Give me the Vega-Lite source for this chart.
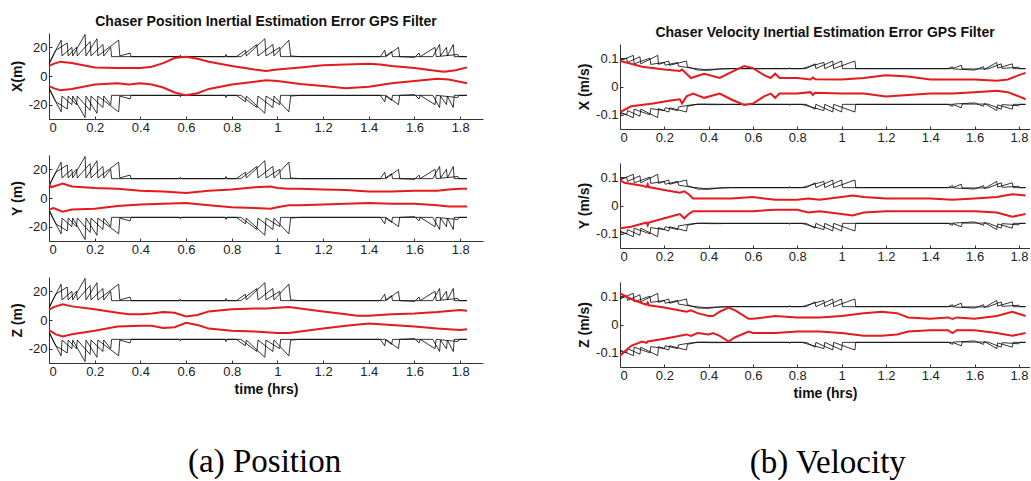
{
"$schema": "https://vega.github.io/schema/vega-lite/v6.json",
"padding": {"left": 10, "top": -4, "right": 0, "bottom": 0},
"background": "white",
"config": {
  "view": {"stroke": null},
  "font": "Liberation Sans",
  "axis": {"domainColor": "#333", "tickColor": "#333", "labelColor": "#222", "labelFont": "Liberation Sans", "labelFontSize": 13, "titleFont": "Liberation Sans", "titleFontSize": 14, "titleFontWeight": "bold", "titleColor": "#111", "grid": false, "tickSize": -3, "labelPadding": 5, "titlePadding": 4},
  "title": {"font": "Liberation Sans", "fontSize": 14, "fontWeight": "bold", "color": "#111", "anchor": "middle"}
},
"datasets": {
"blk": [
{"p":"pos","s":"b1u","t":0,"v":9},{"p":"pos","s":"b1u","t":0.053,"v":25},{"p":"pos","s":"b1u","t":0.057,"v":14},{"p":"pos","s":"b1u","t":0.1,"v":20},{"p":"pos","s":"b1u","t":0.104,"v":14},{"p":"pos","s":"b1u","t":0.158,"v":29},{"p":"pos","s":"b1u","t":0.162,"v":14},{"p":"pos","s":"b1u","t":0.21,"v":26},{"p":"pos","s":"b1u","t":0.214,"v":14},{"p":"pos","s":"b1u","t":0.305,"v":25},{"p":"pos","s":"b1u","t":0.31,"v":14},{"p":"pos","s":"b1u","t":0.355,"v":16},{"p":"pos","s":"b1u","t":0.36,"v":13.5},{"p":"pos","s":"b1u","t":0.77,"v":13.5},{"p":"pos","s":"b1u","t":0.775,"v":15},{"p":"pos","s":"b1u","t":0.78,"v":13.5},{"p":"pos","s":"b1u","t":0.84,"v":13.5},{"p":"pos","s":"b1u","t":0.91,"v":22},{"p":"pos","s":"b1u","t":0.915,"v":14},{"p":"pos","s":"b1u","t":0.98,"v":22},{"p":"pos","s":"b1u","t":0.985,"v":14},{"p":"pos","s":"b1u","t":1.05,"v":25},{"p":"pos","s":"b1u","t":1.058,"v":14},{"p":"pos","s":"b1u","t":1.1,"v":13.5},{"p":"pos","s":"b1u","t":1.45,"v":13.5},{"p":"pos","s":"b1u","t":1.47,"v":18},{"p":"pos","s":"b1u","t":1.475,"v":13.5},{"p":"pos","s":"b1u","t":1.53,"v":20},{"p":"pos","s":"b1u","t":1.535,"v":13.5},{"p":"pos","s":"b1u","t":1.6,"v":13},{"p":"pos","s":"b1u","t":1.62,"v":16},{"p":"pos","s":"b1u","t":1.625,"v":13.5},{"p":"pos","s":"b1u","t":1.69,"v":20},{"p":"pos","s":"b1u","t":1.695,"v":13.5},{"p":"pos","s":"b1u","t":1.79,"v":15},{"p":"pos","s":"b1u","t":1.795,"v":13.5},{"p":"pos","s":"b1u","t":1.83,"v":13.5},
{"p":"pos","s":"b1l","t":0,"v":-9},{"p":"pos","s":"b1l","t":0.053,"v":-25},{"p":"pos","s":"b1l","t":0.057,"v":-14},{"p":"pos","s":"b1l","t":0.1,"v":-20},{"p":"pos","s":"b1l","t":0.104,"v":-14},{"p":"pos","s":"b1l","t":0.158,"v":-29},{"p":"pos","s":"b1l","t":0.162,"v":-14},{"p":"pos","s":"b1l","t":0.21,"v":-26},{"p":"pos","s":"b1l","t":0.214,"v":-14},{"p":"pos","s":"b1l","t":0.305,"v":-25},{"p":"pos","s":"b1l","t":0.31,"v":-14},{"p":"pos","s":"b1l","t":0.355,"v":-16},{"p":"pos","s":"b1l","t":0.36,"v":-13.5},{"p":"pos","s":"b1l","t":0.77,"v":-13.5},{"p":"pos","s":"b1l","t":0.775,"v":-15},{"p":"pos","s":"b1l","t":0.78,"v":-13.5},{"p":"pos","s":"b1l","t":0.84,"v":-13.5},{"p":"pos","s":"b1l","t":0.91,"v":-22},{"p":"pos","s":"b1l","t":0.915,"v":-14},{"p":"pos","s":"b1l","t":0.98,"v":-22},{"p":"pos","s":"b1l","t":0.985,"v":-14},{"p":"pos","s":"b1l","t":1.05,"v":-25},{"p":"pos","s":"b1l","t":1.058,"v":-14},{"p":"pos","s":"b1l","t":1.1,"v":-13.5},{"p":"pos","s":"b1l","t":1.45,"v":-13.5},{"p":"pos","s":"b1l","t":1.47,"v":-18},{"p":"pos","s":"b1l","t":1.475,"v":-13.5},{"p":"pos","s":"b1l","t":1.53,"v":-20},{"p":"pos","s":"b1l","t":1.535,"v":-13.5},{"p":"pos","s":"b1l","t":1.6,"v":-13},{"p":"pos","s":"b1l","t":1.62,"v":-16},{"p":"pos","s":"b1l","t":1.625,"v":-13.5},{"p":"pos","s":"b1l","t":1.69,"v":-20},{"p":"pos","s":"b1l","t":1.695,"v":-13.5},{"p":"pos","s":"b1l","t":1.79,"v":-15},{"p":"pos","s":"b1l","t":1.795,"v":-13.5},{"p":"pos","s":"b1l","t":1.83,"v":-13.5},
{"p":"pos","s":"b2u","t":0,"v":8},{"p":"pos","s":"b2u","t":0.03,"v":18},{"p":"pos","s":"b2u","t":0.08,"v":23},{"p":"pos","s":"b2u","t":0.084,"v":14},{"p":"pos","s":"b2u","t":0.12,"v":20},{"p":"pos","s":"b2u","t":0.124,"v":14},{"p":"pos","s":"b2u","t":0.18,"v":24},{"p":"pos","s":"b2u","t":0.184,"v":14},{"p":"pos","s":"b2u","t":0.236,"v":22},{"p":"pos","s":"b2u","t":0.24,"v":14},{"p":"pos","s":"b2u","t":0.27,"v":20},{"p":"pos","s":"b2u","t":0.274,"v":13.5},{"p":"pos","s":"b2u","t":0.57,"v":13.5},{"p":"pos","s":"b2u","t":0.575,"v":14.5},{"p":"pos","s":"b2u","t":0.58,"v":13.5},{"p":"pos","s":"b2u","t":0.82,"v":13.5},{"p":"pos","s":"b2u","t":0.86,"v":18},{"p":"pos","s":"b2u","t":0.864,"v":14},{"p":"pos","s":"b2u","t":0.945,"v":26},{"p":"pos","s":"b2u","t":0.95,"v":14},{"p":"pos","s":"b2u","t":1.01,"v":20},{"p":"pos","s":"b2u","t":1.014,"v":13.5},{"p":"pos","s":"b2u","t":1.47,"v":13.5},{"p":"pos","s":"b2u","t":1.5,"v":17},{"p":"pos","s":"b2u","t":1.504,"v":13.5},{"p":"pos","s":"b2u","t":1.68,"v":13.5},{"p":"pos","s":"b2u","t":1.71,"v":22},{"p":"pos","s":"b2u","t":1.714,"v":14},{"p":"pos","s":"b2u","t":1.74,"v":20},{"p":"pos","s":"b2u","t":1.744,"v":14},{"p":"pos","s":"b2u","t":1.77,"v":22},{"p":"pos","s":"b2u","t":1.774,"v":13.5},{"p":"pos","s":"b2u","t":1.83,"v":13.5},
{"p":"pos","s":"b2l","t":0,"v":-8},{"p":"pos","s":"b2l","t":0.03,"v":-18},{"p":"pos","s":"b2l","t":0.08,"v":-23},{"p":"pos","s":"b2l","t":0.084,"v":-14},{"p":"pos","s":"b2l","t":0.12,"v":-20},{"p":"pos","s":"b2l","t":0.124,"v":-14},{"p":"pos","s":"b2l","t":0.18,"v":-24},{"p":"pos","s":"b2l","t":0.184,"v":-14},{"p":"pos","s":"b2l","t":0.236,"v":-22},{"p":"pos","s":"b2l","t":0.24,"v":-14},{"p":"pos","s":"b2l","t":0.27,"v":-20},{"p":"pos","s":"b2l","t":0.274,"v":-13.5},{"p":"pos","s":"b2l","t":0.57,"v":-13.5},{"p":"pos","s":"b2l","t":0.575,"v":-14.5},{"p":"pos","s":"b2l","t":0.58,"v":-13.5},{"p":"pos","s":"b2l","t":0.82,"v":-13.5},{"p":"pos","s":"b2l","t":0.86,"v":-18},{"p":"pos","s":"b2l","t":0.864,"v":-14},{"p":"pos","s":"b2l","t":0.945,"v":-26},{"p":"pos","s":"b2l","t":0.95,"v":-14},{"p":"pos","s":"b2l","t":1.01,"v":-20},{"p":"pos","s":"b2l","t":1.014,"v":-13.5},{"p":"pos","s":"b2l","t":1.47,"v":-13.5},{"p":"pos","s":"b2l","t":1.5,"v":-17},{"p":"pos","s":"b2l","t":1.504,"v":-13.5},{"p":"pos","s":"b2l","t":1.68,"v":-13.5},{"p":"pos","s":"b2l","t":1.71,"v":-22},{"p":"pos","s":"b2l","t":1.714,"v":-14},{"p":"pos","s":"b2l","t":1.74,"v":-20},{"p":"pos","s":"b2l","t":1.744,"v":-14},{"p":"pos","s":"b2l","t":1.77,"v":-22},{"p":"pos","s":"b2l","t":1.774,"v":-13.5},{"p":"pos","s":"b2l","t":1.83,"v":-13.5},
{"p":"vel","s":"v1u","t":0,"v":0.095},{"p":"vel","s":"v1u","t":0.03,"v":0.1},{"p":"vel","s":"v1u","t":0.034,"v":0.085},{"p":"vel","s":"v1u","t":0.09,"v":0.105},{"p":"vel","s":"v1u","t":0.094,"v":0.08},{"p":"vel","s":"v1u","t":0.17,"v":0.11},{"p":"vel","s":"v1u","t":0.174,"v":0.078},{"p":"vel","s":"v1u","t":0.22,"v":0.09},{"p":"vel","s":"v1u","t":0.224,"v":0.075},{"p":"vel","s":"v1u","t":0.3,"v":0.09},{"p":"vel","s":"v1u","t":0.304,"v":0.07},{"p":"vel","s":"v1u","t":0.35,"v":0.058},{"p":"vel","s":"v1u","t":0.4,"v":0.057},{"p":"vel","s":"v1u","t":0.45,"v":0.062},{"p":"vel","s":"v1u","t":0.5,"v":0.063},{"p":"vel","s":"v1u","t":0.84,"v":0.063},{"p":"vel","s":"v1u","t":0.88,"v":0.08},{"p":"vel","s":"v1u","t":0.884,"v":0.063},{"p":"vel","s":"v1u","t":0.96,"v":0.09},{"p":"vel","s":"v1u","t":0.964,"v":0.063},{"p":"vel","s":"v1u","t":1.06,"v":0.09},{"p":"vel","s":"v1u","t":1.064,"v":0.063},{"p":"vel","s":"v1u","t":1.48,"v":0.063},{"p":"vel","s":"v1u","t":1.5,"v":0.07},{"p":"vel","s":"v1u","t":1.504,"v":0.062},{"p":"vel","s":"v1u","t":1.6,"v":0.058},{"p":"vel","s":"v1u","t":1.64,"v":0.07},{"p":"vel","s":"v1u","t":1.644,"v":0.06},{"p":"vel","s":"v1u","t":1.7,"v":0.085},{"p":"vel","s":"v1u","t":1.704,"v":0.065},{"p":"vel","s":"v1u","t":1.77,"v":0.08},{"p":"vel","s":"v1u","t":1.774,"v":0.063},{"p":"vel","s":"v1u","t":1.83,"v":0.063},
{"p":"vel","s":"v1l","t":0,"v":-0.095},{"p":"vel","s":"v1l","t":0.03,"v":-0.1},{"p":"vel","s":"v1l","t":0.034,"v":-0.085},{"p":"vel","s":"v1l","t":0.09,"v":-0.105},{"p":"vel","s":"v1l","t":0.094,"v":-0.08},{"p":"vel","s":"v1l","t":0.17,"v":-0.11},{"p":"vel","s":"v1l","t":0.174,"v":-0.078},{"p":"vel","s":"v1l","t":0.22,"v":-0.09},{"p":"vel","s":"v1l","t":0.224,"v":-0.075},{"p":"vel","s":"v1l","t":0.3,"v":-0.09},{"p":"vel","s":"v1l","t":0.304,"v":-0.07},{"p":"vel","s":"v1l","t":0.35,"v":-0.062},{"p":"vel","s":"v1l","t":0.4,"v":-0.064},{"p":"vel","s":"v1l","t":0.45,"v":-0.064},{"p":"vel","s":"v1l","t":0.5,"v":-0.063},{"p":"vel","s":"v1l","t":0.84,"v":-0.063},{"p":"vel","s":"v1l","t":0.88,"v":-0.08},{"p":"vel","s":"v1l","t":0.884,"v":-0.063},{"p":"vel","s":"v1l","t":0.96,"v":-0.09},{"p":"vel","s":"v1l","t":0.964,"v":-0.063},{"p":"vel","s":"v1l","t":1.06,"v":-0.09},{"p":"vel","s":"v1l","t":1.064,"v":-0.063},{"p":"vel","s":"v1l","t":1.48,"v":-0.063},{"p":"vel","s":"v1l","t":1.5,"v":-0.07},{"p":"vel","s":"v1l","t":1.504,"v":-0.062},{"p":"vel","s":"v1l","t":1.6,"v":-0.058},{"p":"vel","s":"v1l","t":1.64,"v":-0.07},{"p":"vel","s":"v1l","t":1.644,"v":-0.06},{"p":"vel","s":"v1l","t":1.7,"v":-0.085},{"p":"vel","s":"v1l","t":1.704,"v":-0.065},{"p":"vel","s":"v1l","t":1.77,"v":-0.08},{"p":"vel","s":"v1l","t":1.774,"v":-0.063},{"p":"vel","s":"v1l","t":1.83,"v":-0.063},
{"p":"vel","s":"v2u","t":0,"v":0.09},{"p":"vel","s":"v2u","t":0.06,"v":0.11},{"p":"vel","s":"v2u","t":0.064,"v":0.08},{"p":"vel","s":"v2u","t":0.135,"v":0.1},{"p":"vel","s":"v2u","t":0.139,"v":0.078},{"p":"vel","s":"v2u","t":0.2,"v":0.085},{"p":"vel","s":"v2u","t":0.204,"v":0.075},{"p":"vel","s":"v2u","t":0.26,"v":0.085},{"p":"vel","s":"v2u","t":0.264,"v":0.072},{"p":"vel","s":"v2u","t":0.32,"v":0.065},{"p":"vel","s":"v2u","t":0.38,"v":0.06},{"p":"vel","s":"v2u","t":0.5,"v":0.063},{"p":"vel","s":"v2u","t":0.76,"v":0.063},{"p":"vel","s":"v2u","t":0.765,"v":0.066},{"p":"vel","s":"v2u","t":0.77,"v":0.063},{"p":"vel","s":"v2u","t":0.82,"v":0.063},{"p":"vel","s":"v2u","t":0.92,"v":0.085},{"p":"vel","s":"v2u","t":0.924,"v":0.063},{"p":"vel","s":"v2u","t":1.0,"v":0.09},{"p":"vel","s":"v2u","t":1.004,"v":0.063},{"p":"vel","s":"v2u","t":1.5,"v":0.063},{"p":"vel","s":"v2u","t":1.54,"v":0.075},{"p":"vel","s":"v2u","t":1.544,"v":0.062},{"p":"vel","s":"v2u","t":1.66,"v":0.062},{"p":"vel","s":"v2u","t":1.72,"v":0.08},{"p":"vel","s":"v2u","t":1.724,"v":0.064},{"p":"vel","s":"v2u","t":1.8,"v":0.068},{"p":"vel","s":"v2u","t":1.804,"v":0.063},{"p":"vel","s":"v2u","t":1.83,"v":0.063},
{"p":"vel","s":"v2l","t":0,"v":-0.09},{"p":"vel","s":"v2l","t":0.06,"v":-0.11},{"p":"vel","s":"v2l","t":0.064,"v":-0.08},{"p":"vel","s":"v2l","t":0.135,"v":-0.1},{"p":"vel","s":"v2l","t":0.139,"v":-0.078},{"p":"vel","s":"v2l","t":0.2,"v":-0.085},{"p":"vel","s":"v2l","t":0.204,"v":-0.075},{"p":"vel","s":"v2l","t":0.26,"v":-0.085},{"p":"vel","s":"v2l","t":0.264,"v":-0.072},{"p":"vel","s":"v2l","t":0.32,"v":-0.065},{"p":"vel","s":"v2l","t":0.38,"v":-0.062},{"p":"vel","s":"v2l","t":0.5,"v":-0.063},{"p":"vel","s":"v2l","t":0.76,"v":-0.063},{"p":"vel","s":"v2l","t":0.765,"v":-0.066},{"p":"vel","s":"v2l","t":0.77,"v":-0.063},{"p":"vel","s":"v2l","t":0.82,"v":-0.063},{"p":"vel","s":"v2l","t":0.92,"v":-0.085},{"p":"vel","s":"v2l","t":0.924,"v":-0.063},{"p":"vel","s":"v2l","t":1.0,"v":-0.09},{"p":"vel","s":"v2l","t":1.004,"v":-0.063},{"p":"vel","s":"v2l","t":1.5,"v":-0.063},{"p":"vel","s":"v2l","t":1.54,"v":-0.075},{"p":"vel","s":"v2l","t":1.544,"v":-0.062},{"p":"vel","s":"v2l","t":1.66,"v":-0.062},{"p":"vel","s":"v2l","t":1.72,"v":-0.08},{"p":"vel","s":"v2l","t":1.724,"v":-0.064},{"p":"vel","s":"v2l","t":1.8,"v":-0.068},{"p":"vel","s":"v2l","t":1.804,"v":-0.063},{"p":"vel","s":"v2l","t":1.83,"v":-0.063}
],
"red": [
{"p":"PX","s":"u","t":0,"v":7},{"p":"PX","s":"u","t":0.02,"v":8.5},{"p":"PX","s":"u","t":0.05,"v":10},{"p":"PX","s":"u","t":0.1,"v":9},{"p":"PX","s":"u","t":0.15,"v":7.5},{"p":"PX","s":"u","t":0.2,"v":6},{"p":"PX","s":"u","t":0.3,"v":5.5},{"p":"PX","s":"u","t":0.4,"v":5.5},{"p":"PX","s":"u","t":0.45,"v":6.5},{"p":"PX","s":"u","t":0.5,"v":9},{"p":"PX","s":"u","t":0.55,"v":12.5},{"p":"PX","s":"u","t":0.6,"v":13.5},{"p":"PX","s":"u","t":0.65,"v":12},{"p":"PX","s":"u","t":0.7,"v":10},{"p":"PX","s":"u","t":0.8,"v":7},{"p":"PX","s":"u","t":0.9,"v":4.5},{"p":"PX","s":"u","t":0.95,"v":3.5},{"p":"PX","s":"u","t":1.0,"v":4.5},{"p":"PX","s":"u","t":1.1,"v":6},{"p":"PX","s":"u","t":1.2,"v":7.5},{"p":"PX","s":"u","t":1.3,"v":8},{"p":"PX","s":"u","t":1.4,"v":8.5},{"p":"PX","s":"u","t":1.45,"v":8},{"p":"PX","s":"u","t":1.5,"v":7},{"p":"PX","s":"u","t":1.6,"v":5.5},{"p":"PX","s":"u","t":1.7,"v":3.5},{"p":"PX","s":"u","t":1.73,"v":3},{"p":"PX","s":"u","t":1.78,"v":4},{"p":"PX","s":"u","t":1.83,"v":6},
{"p":"PX","s":"l","t":0,"v":-7},{"p":"PX","s":"l","t":0.02,"v":-8.5},{"p":"PX","s":"l","t":0.05,"v":-10},{"p":"PX","s":"l","t":0.1,"v":-9},{"p":"PX","s":"l","t":0.2,"v":-6},{"p":"PX","s":"l","t":0.3,"v":-5},{"p":"PX","s":"l","t":0.35,"v":-6},{"p":"PX","s":"l","t":0.4,"v":-5},{"p":"PX","s":"l","t":0.45,"v":-6},{"p":"PX","s":"l","t":0.5,"v":-8},{"p":"PX","s":"l","t":0.55,"v":-11.5},{"p":"PX","s":"l","t":0.6,"v":-13.5},{"p":"PX","s":"l","t":0.65,"v":-12},{"p":"PX","s":"l","t":0.7,"v":-9},{"p":"PX","s":"l","t":0.8,"v":-6},{"p":"PX","s":"l","t":0.9,"v":-4},{"p":"PX","s":"l","t":0.95,"v":-3},{"p":"PX","s":"l","t":1.0,"v":-3.5},{"p":"PX","s":"l","t":1.1,"v":-5.5},{"p":"PX","s":"l","t":1.2,"v":-7},{"p":"PX","s":"l","t":1.3,"v":-8.5},{"p":"PX","s":"l","t":1.4,"v":-7.5},{"p":"PX","s":"l","t":1.5,"v":-5},{"p":"PX","s":"l","t":1.6,"v":-3.5},{"p":"PX","s":"l","t":1.7,"v":-2},{"p":"PX","s":"l","t":1.75,"v":-2.5},{"p":"PX","s":"l","t":1.83,"v":-5},
{"p":"PY","s":"u","t":0,"v":10},{"p":"PY","s":"u","t":0.01,"v":7.5},{"p":"PY","s":"u","t":0.06,"v":10},{"p":"PY","s":"u","t":0.1,"v":8},{"p":"PY","s":"u","t":0.2,"v":7},{"p":"PY","s":"u","t":0.3,"v":6.5},{"p":"PY","s":"u","t":0.4,"v":5},{"p":"PY","s":"u","t":0.5,"v":4.5},{"p":"PY","s":"u","t":0.6,"v":3.5},{"p":"PY","s":"u","t":0.7,"v":5},{"p":"PY","s":"u","t":0.8,"v":6},{"p":"PY","s":"u","t":0.9,"v":7.5},{"p":"PY","s":"u","t":0.97,"v":8},{"p":"PY","s":"u","t":1.0,"v":7},{"p":"PY","s":"u","t":1.05,"v":6.5},{"p":"PY","s":"u","t":1.1,"v":6.5},{"p":"PY","s":"u","t":1.2,"v":6},{"p":"PY","s":"u","t":1.3,"v":5.5},{"p":"PY","s":"u","t":1.4,"v":4.5},{"p":"PY","s":"u","t":1.5,"v":4.5},{"p":"PY","s":"u","t":1.6,"v":5},{"p":"PY","s":"u","t":1.7,"v":5},{"p":"PY","s":"u","t":1.75,"v":6},{"p":"PY","s":"u","t":1.8,"v":6.5},{"p":"PY","s":"u","t":1.83,"v":6.5},
{"p":"PY","s":"l","t":0,"v":-8},{"p":"PY","s":"l","t":0.02,"v":-7},{"p":"PY","s":"l","t":0.06,"v":-9.5},{"p":"PY","s":"l","t":0.1,"v":-8},{"p":"PY","s":"l","t":0.2,"v":-7.5},{"p":"PY","s":"l","t":0.3,"v":-5.5},{"p":"PY","s":"l","t":0.4,"v":-4.5},{"p":"PY","s":"l","t":0.5,"v":-4},{"p":"PY","s":"l","t":0.6,"v":-3.5},{"p":"PY","s":"l","t":0.7,"v":-5},{"p":"PY","s":"l","t":0.8,"v":-6.5},{"p":"PY","s":"l","t":0.9,"v":-7},{"p":"PY","s":"l","t":0.97,"v":-7.5},{"p":"PY","s":"l","t":1.0,"v":-6.5},{"p":"PY","s":"l","t":1.05,"v":-5},{"p":"PY","s":"l","t":1.1,"v":-5},{"p":"PY","s":"l","t":1.2,"v":-4.5},{"p":"PY","s":"l","t":1.3,"v":-4},{"p":"PY","s":"l","t":1.4,"v":-3.5},{"p":"PY","s":"l","t":1.5,"v":-4},{"p":"PY","s":"l","t":1.6,"v":-4},{"p":"PY","s":"l","t":1.7,"v":-5},{"p":"PY","s":"l","t":1.75,"v":-6},{"p":"PY","s":"l","t":1.83,"v":-6},
{"p":"PZ","s":"u","t":0,"v":7},{"p":"PZ","s":"u","t":0.02,"v":9},{"p":"PZ","s":"u","t":0.06,"v":11},{"p":"PZ","s":"u","t":0.1,"v":9.5},{"p":"PZ","s":"u","t":0.2,"v":7.5},{"p":"PZ","s":"u","t":0.3,"v":5},{"p":"PZ","s":"u","t":0.35,"v":4},{"p":"PZ","s":"u","t":0.4,"v":4},{"p":"PZ","s":"u","t":0.45,"v":4.5},{"p":"PZ","s":"u","t":0.5,"v":5.5},{"p":"PZ","s":"u","t":0.55,"v":5},{"p":"PZ","s":"u","t":0.6,"v":2.5},{"p":"PZ","s":"u","t":0.65,"v":3.5},{"p":"PZ","s":"u","t":0.7,"v":6},{"p":"PZ","s":"u","t":0.8,"v":7.5},{"p":"PZ","s":"u","t":0.9,"v":8},{"p":"PZ","s":"u","t":0.95,"v":8},{"p":"PZ","s":"u","t":1.0,"v":8.5},{"p":"PZ","s":"u","t":1.05,"v":9},{"p":"PZ","s":"u","t":1.1,"v":8},{"p":"PZ","s":"u","t":1.2,"v":6},{"p":"PZ","s":"u","t":1.3,"v":4},{"p":"PZ","s":"u","t":1.35,"v":3},{"p":"PZ","s":"u","t":1.4,"v":3},{"p":"PZ","s":"u","t":1.5,"v":4},{"p":"PZ","s":"u","t":1.6,"v":4.5},{"p":"PZ","s":"u","t":1.7,"v":5.5},{"p":"PZ","s":"u","t":1.8,"v":7},{"p":"PZ","s":"u","t":1.83,"v":6.5},
{"p":"PZ","s":"l","t":0,"v":-7},{"p":"PZ","s":"l","t":0.03,"v":-10},{"p":"PZ","s":"l","t":0.06,"v":-11.5},{"p":"PZ","s":"l","t":0.1,"v":-10},{"p":"PZ","s":"l","t":0.2,"v":-7.5},{"p":"PZ","s":"l","t":0.3,"v":-4.5},{"p":"PZ","s":"l","t":0.4,"v":-4},{"p":"PZ","s":"l","t":0.45,"v":-4},{"p":"PZ","s":"l","t":0.5,"v":-5.5},{"p":"PZ","s":"l","t":0.55,"v":-5},{"p":"PZ","s":"l","t":0.6,"v":-2},{"p":"PZ","s":"l","t":0.65,"v":-3.5},{"p":"PZ","s":"l","t":0.7,"v":-6},{"p":"PZ","s":"l","t":0.8,"v":-7.5},{"p":"PZ","s":"l","t":0.9,"v":-8},{"p":"PZ","s":"l","t":1.0,"v":-9},{"p":"PZ","s":"l","t":1.05,"v":-9},{"p":"PZ","s":"l","t":1.1,"v":-8},{"p":"PZ","s":"l","t":1.2,"v":-6},{"p":"PZ","s":"l","t":1.3,"v":-4},{"p":"PZ","s":"l","t":1.4,"v":-2.5},{"p":"PZ","s":"l","t":1.5,"v":-3.5},{"p":"PZ","s":"l","t":1.6,"v":-4.5},{"p":"PZ","s":"l","t":1.7,"v":-6},{"p":"PZ","s":"l","t":1.8,"v":-7},{"p":"PZ","s":"l","t":1.83,"v":-6.5},
{"p":"VX","s":"u","t":0,"v":0.09},{"p":"VX","s":"u","t":0.05,"v":0.08},{"p":"VX","s":"u","t":0.1,"v":0.07},{"p":"VX","s":"u","t":0.2,"v":0.06},{"p":"VX","s":"u","t":0.27,"v":0.055},{"p":"VX","s":"u","t":0.28,"v":0.06},{"p":"VX","s":"u","t":0.32,"v":0.03},{"p":"VX","s":"u","t":0.38,"v":0.045},{"p":"VX","s":"u","t":0.45,"v":0.03},{"p":"VX","s":"u","t":0.5,"v":0.05},{"p":"VX","s":"u","t":0.56,"v":0.072},{"p":"VX","s":"u","t":0.6,"v":0.065},{"p":"VX","s":"u","t":0.65,"v":0.04},{"p":"VX","s":"u","t":0.68,"v":0.03},{"p":"VX","s":"u","t":0.7,"v":0.045},{"p":"VX","s":"u","t":0.72,"v":0.03},{"p":"VX","s":"u","t":0.8,"v":0.03},{"p":"VX","s":"u","t":0.86,"v":0.025},{"p":"VX","s":"u","t":0.87,"v":0.032},{"p":"VX","s":"u","t":0.88,"v":0.026},{"p":"VX","s":"u","t":1.0,"v":0.025},{"p":"VX","s":"u","t":1.1,"v":0.03},{"p":"VX","s":"u","t":1.2,"v":0.04},{"p":"VX","s":"u","t":1.3,"v":0.035},{"p":"VX","s":"u","t":1.4,"v":0.025},{"p":"VX","s":"u","t":1.5,"v":0.025},{"p":"VX","s":"u","t":1.6,"v":0.025},{"p":"VX","s":"u","t":1.7,"v":0.02},{"p":"VX","s":"u","t":1.75,"v":0.025},{"p":"VX","s":"u","t":1.8,"v":0.04},{"p":"VX","s":"u","t":1.83,"v":0.048},
{"p":"VX","s":"l","t":0,"v":-0.09},{"p":"VX","s":"l","t":0.05,"v":-0.07},{"p":"VX","s":"l","t":0.15,"v":-0.06},{"p":"VX","s":"l","t":0.22,"v":-0.05},{"p":"VX","s":"l","t":0.27,"v":-0.045},{"p":"VX","s":"l","t":0.28,"v":-0.06},{"p":"VX","s":"l","t":0.3,"v":-0.035},{"p":"VX","s":"l","t":0.33,"v":-0.025},{"p":"VX","s":"l","t":0.38,"v":-0.04},{"p":"VX","s":"l","t":0.45,"v":-0.025},{"p":"VX","s":"l","t":0.5,"v":-0.045},{"p":"VX","s":"l","t":0.56,"v":-0.065},{"p":"VX","s":"l","t":0.6,"v":-0.06},{"p":"VX","s":"l","t":0.65,"v":-0.035},{"p":"VX","s":"l","t":0.68,"v":-0.025},{"p":"VX","s":"l","t":0.7,"v":-0.04},{"p":"VX","s":"l","t":0.72,"v":-0.025},{"p":"VX","s":"l","t":0.8,"v":-0.025},{"p":"VX","s":"l","t":0.86,"v":-0.02},{"p":"VX","s":"l","t":0.87,"v":-0.03},{"p":"VX","s":"l","t":0.88,"v":-0.022},{"p":"VX","s":"l","t":1.0,"v":-0.025},{"p":"VX","s":"l","t":1.1,"v":-0.025},{"p":"VX","s":"l","t":1.2,"v":-0.035},{"p":"VX","s":"l","t":1.3,"v":-0.03},{"p":"VX","s":"l","t":1.4,"v":-0.025},{"p":"VX","s":"l","t":1.5,"v":-0.025},{"p":"VX","s":"l","t":1.6,"v":-0.02},{"p":"VX","s":"l","t":1.7,"v":-0.015},{"p":"VX","s":"l","t":1.75,"v":-0.02},{"p":"VX","s":"l","t":1.8,"v":-0.035},{"p":"VX","s":"l","t":1.83,"v":-0.045},
{"p":"VY","s":"u","t":0,"v":0.09},{"p":"VY","s":"u","t":0.02,"v":0.08},{"p":"VY","s":"u","t":0.1,"v":0.07},{"p":"VY","s":"u","t":0.12,"v":0.065},{"p":"VY","s":"u","t":0.125,"v":0.075},{"p":"VY","s":"u","t":0.13,"v":0.065},{"p":"VY","s":"u","t":0.2,"v":0.055},{"p":"VY","s":"u","t":0.27,"v":0.045},{"p":"VY","s":"u","t":0.29,"v":0.05},{"p":"VY","s":"u","t":0.31,"v":0.04},{"p":"VY","s":"u","t":0.33,"v":0.025},{"p":"VY","s":"u","t":0.4,"v":0.025},{"p":"VY","s":"u","t":0.5,"v":0.025},{"p":"VY","s":"u","t":0.6,"v":0.03},{"p":"VY","s":"u","t":0.65,"v":0.025},{"p":"VY","s":"u","t":0.7,"v":0.02},{"p":"VY","s":"u","t":0.8,"v":0.02},{"p":"VY","s":"u","t":0.85,"v":0.025},{"p":"VY","s":"u","t":0.9,"v":0.02},{"p":"VY","s":"u","t":1.0,"v":0.03},{"p":"VY","s":"u","t":1.05,"v":0.035},{"p":"VY","s":"u","t":1.1,"v":0.03},{"p":"VY","s":"u","t":1.2,"v":0.025},{"p":"VY","s":"u","t":1.3,"v":0.025},{"p":"VY","s":"u","t":1.4,"v":0.025},{"p":"VY","s":"u","t":1.5,"v":0.02},{"p":"VY","s":"u","t":1.6,"v":0.025},{"p":"VY","s":"u","t":1.7,"v":0.03},{"p":"VY","s":"u","t":1.77,"v":0.04},{"p":"VY","s":"u","t":1.83,"v":0.035},
{"p":"VY","s":"l","t":0,"v":-0.08},{"p":"VY","s":"l","t":0.05,"v":-0.075},{"p":"VY","s":"l","t":0.12,"v":-0.06},{"p":"VY","s":"l","t":0.125,"v":-0.07},{"p":"VY","s":"l","t":0.13,"v":-0.06},{"p":"VY","s":"l","t":0.2,"v":-0.045},{"p":"VY","s":"l","t":0.27,"v":-0.03},{"p":"VY","s":"l","t":0.29,"v":-0.045},{"p":"VY","s":"l","t":0.31,"v":-0.03},{"p":"VY","s":"l","t":0.33,"v":-0.02},{"p":"VY","s":"l","t":0.4,"v":-0.02},{"p":"VY","s":"l","t":0.5,"v":-0.02},{"p":"VY","s":"l","t":0.6,"v":-0.02},{"p":"VY","s":"l","t":0.7,"v":-0.015},{"p":"VY","s":"l","t":0.8,"v":-0.015},{"p":"VY","s":"l","t":0.85,"v":-0.025},{"p":"VY","s":"l","t":0.9,"v":-0.02},{"p":"VY","s":"l","t":1.0,"v":-0.03},{"p":"VY","s":"l","t":1.05,"v":-0.035},{"p":"VY","s":"l","t":1.1,"v":-0.025},{"p":"VY","s":"l","t":1.2,"v":-0.02},{"p":"VY","s":"l","t":1.3,"v":-0.02},{"p":"VY","s":"l","t":1.4,"v":-0.02},{"p":"VY","s":"l","t":1.5,"v":-0.02},{"p":"VY","s":"l","t":1.6,"v":-0.02},{"p":"VY","s":"l","t":1.7,"v":-0.025},{"p":"VY","s":"l","t":1.77,"v":-0.04},{"p":"VY","s":"l","t":1.83,"v":-0.03},
{"p":"VZ","s":"u","t":0,"v":0.11},{"p":"VZ","s":"u","t":0.05,"v":0.09},{"p":"VZ","s":"u","t":0.1,"v":0.075},{"p":"VZ","s":"u","t":0.12,"v":0.07},{"p":"VZ","s":"u","t":0.125,"v":0.078},{"p":"VZ","s":"u","t":0.13,"v":0.068},{"p":"VZ","s":"u","t":0.2,"v":0.06},{"p":"VZ","s":"u","t":0.3,"v":0.045},{"p":"VZ","s":"u","t":0.32,"v":0.05},{"p":"VZ","s":"u","t":0.35,"v":0.04},{"p":"VZ","s":"u","t":0.4,"v":0.03},{"p":"VZ","s":"u","t":0.42,"v":0.03},{"p":"VZ","s":"u","t":0.45,"v":0.045},{"p":"VZ","s":"u","t":0.49,"v":0.06},{"p":"VZ","s":"u","t":0.52,"v":0.05},{"p":"VZ","s":"u","t":0.58,"v":0.02},{"p":"VZ","s":"u","t":0.6,"v":0.02},{"p":"VZ","s":"u","t":0.7,"v":0.03},{"p":"VZ","s":"u","t":0.8,"v":0.025},{"p":"VZ","s":"u","t":0.9,"v":0.025},{"p":"VZ","s":"u","t":1.0,"v":0.03},{"p":"VZ","s":"u","t":1.1,"v":0.04},{"p":"VZ","s":"u","t":1.18,"v":0.045},{"p":"VZ","s":"u","t":1.25,"v":0.04},{"p":"VZ","s":"u","t":1.3,"v":0.025},{"p":"VZ","s":"u","t":1.4,"v":0.02},{"p":"VZ","s":"u","t":1.48,"v":0.025},{"p":"VZ","s":"u","t":1.5,"v":0.02},{"p":"VZ","s":"u","t":1.52,"v":0.025},{"p":"VZ","s":"u","t":1.6,"v":0.02},{"p":"VZ","s":"u","t":1.7,"v":0.03},{"p":"VZ","s":"u","t":1.77,"v":0.045},{"p":"VZ","s":"u","t":1.83,"v":0.03},
{"p":"VZ","s":"l","t":0,"v":-0.11},{"p":"VZ","s":"l","t":0.05,"v":-0.075},{"p":"VZ","s":"l","t":0.1,"v":-0.06},{"p":"VZ","s":"l","t":0.12,"v":-0.065},{"p":"VZ","s":"l","t":0.125,"v":-0.06},{"p":"VZ","s":"l","t":0.2,"v":-0.05},{"p":"VZ","s":"l","t":0.3,"v":-0.035},{"p":"VZ","s":"l","t":0.32,"v":-0.04},{"p":"VZ","s":"l","t":0.35,"v":-0.03},{"p":"VZ","s":"l","t":0.4,"v":-0.035},{"p":"VZ","s":"l","t":0.42,"v":-0.03},{"p":"VZ","s":"l","t":0.45,"v":-0.04},{"p":"VZ","s":"l","t":0.49,"v":-0.06},{"p":"VZ","s":"l","t":0.52,"v":-0.045},{"p":"VZ","s":"l","t":0.58,"v":-0.025},{"p":"VZ","s":"l","t":0.6,"v":-0.03},{"p":"VZ","s":"l","t":0.7,"v":-0.03},{"p":"VZ","s":"l","t":0.8,"v":-0.025},{"p":"VZ","s":"l","t":0.9,"v":-0.025},{"p":"VZ","s":"l","t":1.0,"v":-0.03},{"p":"VZ","s":"l","t":1.1,"v":-0.04},{"p":"VZ","s":"l","t":1.18,"v":-0.04},{"p":"VZ","s":"l","t":1.25,"v":-0.035},{"p":"VZ","s":"l","t":1.3,"v":-0.025},{"p":"VZ","s":"l","t":1.4,"v":-0.02},{"p":"VZ","s":"l","t":1.48,"v":-0.02},{"p":"VZ","s":"l","t":1.5,"v":-0.03},{"p":"VZ","s":"l","t":1.52,"v":-0.02},{"p":"VZ","s":"l","t":1.6,"v":-0.02},{"p":"VZ","s":"l","t":1.7,"v":-0.03},{"p":"VZ","s":"l","t":1.77,"v":-0.04},{"p":"VZ","s":"l","t":1.83,"v":-0.03}
]
},
"bounds": "full",
"spacing": 94,
"hconcat": [
 {
  "bounds": "flush",
  "spacing": 36,
  "title": {"text": "(a) Position", "orient": "bottom", "font": "Liberation Serif", "fontSize": 33, "fontWeight": "normal", "color": "#000", "offset": 50, "dx": 18},
  "vconcat": [
   {"width": 434, "height": 1, "data": {"values": []}, "mark": "point"},
   {"width": 434, "height": 86, "title": "Chaser Position Inertial Estimation Error GPS Filter",
    "encoding": {
     "x": {"field": "t", "type": "quantitative", "scale": {"domain": [0, 1.9], "nice": false, "zero": false}, "axis": {"values": [0,0.2,0.4,0.6,0.8,1,1.2,1.4,1.6,1.8], "labelExpr": "'' + datum.value", "title": null}},
     "y": {"field": "v", "type": "quantitative", "scale": {"domain": [-30, 30], "nice": false}, "axis": {"values": [-20,0,20], "labelExpr": "'' + datum.value", "title": "X(m)"}},
     "detail": {"field": "s"}},
    "layer": [
     {"data": {"name": "blk"}, "transform": [{"filter": "datum.p == 'pos'"}], "mark": {"type": "line", "color": "black", "strokeWidth": 0.8, "clip": true}},
     {"data": {"name": "red"}, "transform": [{"filter": "datum.p == 'PX'"}], "mark": {"type": "line", "color": "#e41a1c", "strokeWidth": 2, "clip": true}}
    ]},
   {"width": 434, "height": 86,
    "encoding": {
     "x": {"field": "t", "type": "quantitative", "scale": {"domain": [0, 1.9], "nice": false, "zero": false}, "axis": {"values": [0,0.2,0.4,0.6,0.8,1,1.2,1.4,1.6,1.8], "labelExpr": "'' + datum.value", "title": null}},
     "y": {"field": "v", "type": "quantitative", "scale": {"domain": [-30, 30], "nice": false}, "axis": {"values": [-20,0,20], "labelExpr": "'' + datum.value", "title": "Y (m)"}},
     "detail": {"field": "s"}},
    "layer": [
     {"data": {"name": "blk"}, "transform": [{"filter": "datum.p == 'pos'"}], "mark": {"type": "line", "color": "black", "strokeWidth": 0.8, "clip": true}},
     {"data": {"name": "red"}, "transform": [{"filter": "datum.p == 'PY'"}], "mark": {"type": "line", "color": "#e41a1c", "strokeWidth": 2, "clip": true}}
    ]},
   {"width": 434, "height": 86,
    "encoding": {
     "x": {"field": "t", "type": "quantitative", "scale": {"domain": [0, 1.9], "nice": false, "zero": false}, "axis": {"values": [0,0.2,0.4,0.6,0.8,1,1.2,1.4,1.6,1.8], "labelExpr": "'' + datum.value", "title": "time (hrs)"}},
     "y": {"field": "v", "type": "quantitative", "scale": {"domain": [-30, 30], "nice": false}, "axis": {"values": [-20,0,20], "labelExpr": "'' + datum.value", "title": "Z (m)"}},
     "detail": {"field": "s"}},
    "layer": [
     {"data": {"name": "blk"}, "transform": [{"filter": "datum.p == 'pos'"}], "mark": {"type": "line", "color": "black", "strokeWidth": 0.8, "clip": true}},
     {"data": {"name": "red"}, "transform": [{"filter": "datum.p == 'PZ'"}], "mark": {"type": "line", "color": "#e41a1c", "strokeWidth": 2, "clip": true}}
    ]}
  ]
 },
 {
  "bounds": "flush",
  "spacing": 34,
  "title": {"text": "(b) Velocity", "orient": "bottom", "font": "Liberation Serif", "fontSize": 33, "fontWeight": "normal", "color": "#000", "offset": 47, "dx": 24},
  "vconcat": [
   {"width": 410, "height": 14, "data": {"values": []}, "mark": "point"},
   {"width": 410, "height": 85, "title": "Chaser Velocity Inertial Estimation Error GPS Filter",
    "encoding": {
     "x": {"field": "t", "type": "quantitative", "scale": {"domain": [0, 1.85], "nice": false, "zero": false}, "axis": {"values": [0,0.2,0.4,0.6,0.8,1,1.2,1.4,1.6,1.8], "labelExpr": "'' + datum.value", "title": null}},
     "y": {"field": "v", "type": "quantitative", "scale": {"domain": [-0.15, 0.15], "nice": false}, "axis": {"values": [-0.1,0,0.1], "labelExpr": "'' + datum.value", "title": "X (m/s)"}},
     "detail": {"field": "s"}},
    "layer": [
     {"data": {"name": "blk"}, "transform": [{"filter": "datum.p == 'vel'"}], "mark": {"type": "line", "color": "black", "strokeWidth": 0.8, "clip": true}},
     {"data": {"name": "red"}, "transform": [{"filter": "datum.p == 'VX'"}], "mark": {"type": "line", "color": "#e41a1c", "strokeWidth": 2, "clip": true}}
    ]},
   {"width": 410, "height": 85,
    "encoding": {
     "x": {"field": "t", "type": "quantitative", "scale": {"domain": [0, 1.85], "nice": false, "zero": false}, "axis": {"values": [0,0.2,0.4,0.6,0.8,1,1.2,1.4,1.6,1.8], "labelExpr": "'' + datum.value", "title": null}},
     "y": {"field": "v", "type": "quantitative", "scale": {"domain": [-0.15, 0.15], "nice": false}, "axis": {"values": [-0.1,0,0.1], "labelExpr": "'' + datum.value", "title": "Y (m/s)"}},
     "detail": {"field": "s"}},
    "layer": [
     {"data": {"name": "blk"}, "transform": [{"filter": "datum.p == 'vel'"}], "mark": {"type": "line", "color": "black", "strokeWidth": 0.8, "clip": true}},
     {"data": {"name": "red"}, "transform": [{"filter": "datum.p == 'VY'"}], "mark": {"type": "line", "color": "#e41a1c", "strokeWidth": 2, "clip": true}}
    ]},
   {"width": 410, "height": 85,
    "encoding": {
     "x": {"field": "t", "type": "quantitative", "scale": {"domain": [0, 1.85], "nice": false, "zero": false}, "axis": {"values": [0,0.2,0.4,0.6,0.8,1,1.2,1.4,1.6,1.8], "labelExpr": "'' + datum.value", "title": "time (hrs)"}},
     "y": {"field": "v", "type": "quantitative", "scale": {"domain": [-0.15, 0.15], "nice": false}, "axis": {"values": [-0.1,0,0.1], "labelExpr": "'' + datum.value", "title": "Z (m/s)"}},
     "detail": {"field": "s"}},
    "layer": [
     {"data": {"name": "blk"}, "transform": [{"filter": "datum.p == 'vel'"}], "mark": {"type": "line", "color": "black", "strokeWidth": 0.8, "clip": true}},
     {"data": {"name": "red"}, "transform": [{"filter": "datum.p == 'VZ'"}], "mark": {"type": "line", "color": "#e41a1c", "strokeWidth": 2, "clip": true}}
    ]}
  ]
 }
]
}
